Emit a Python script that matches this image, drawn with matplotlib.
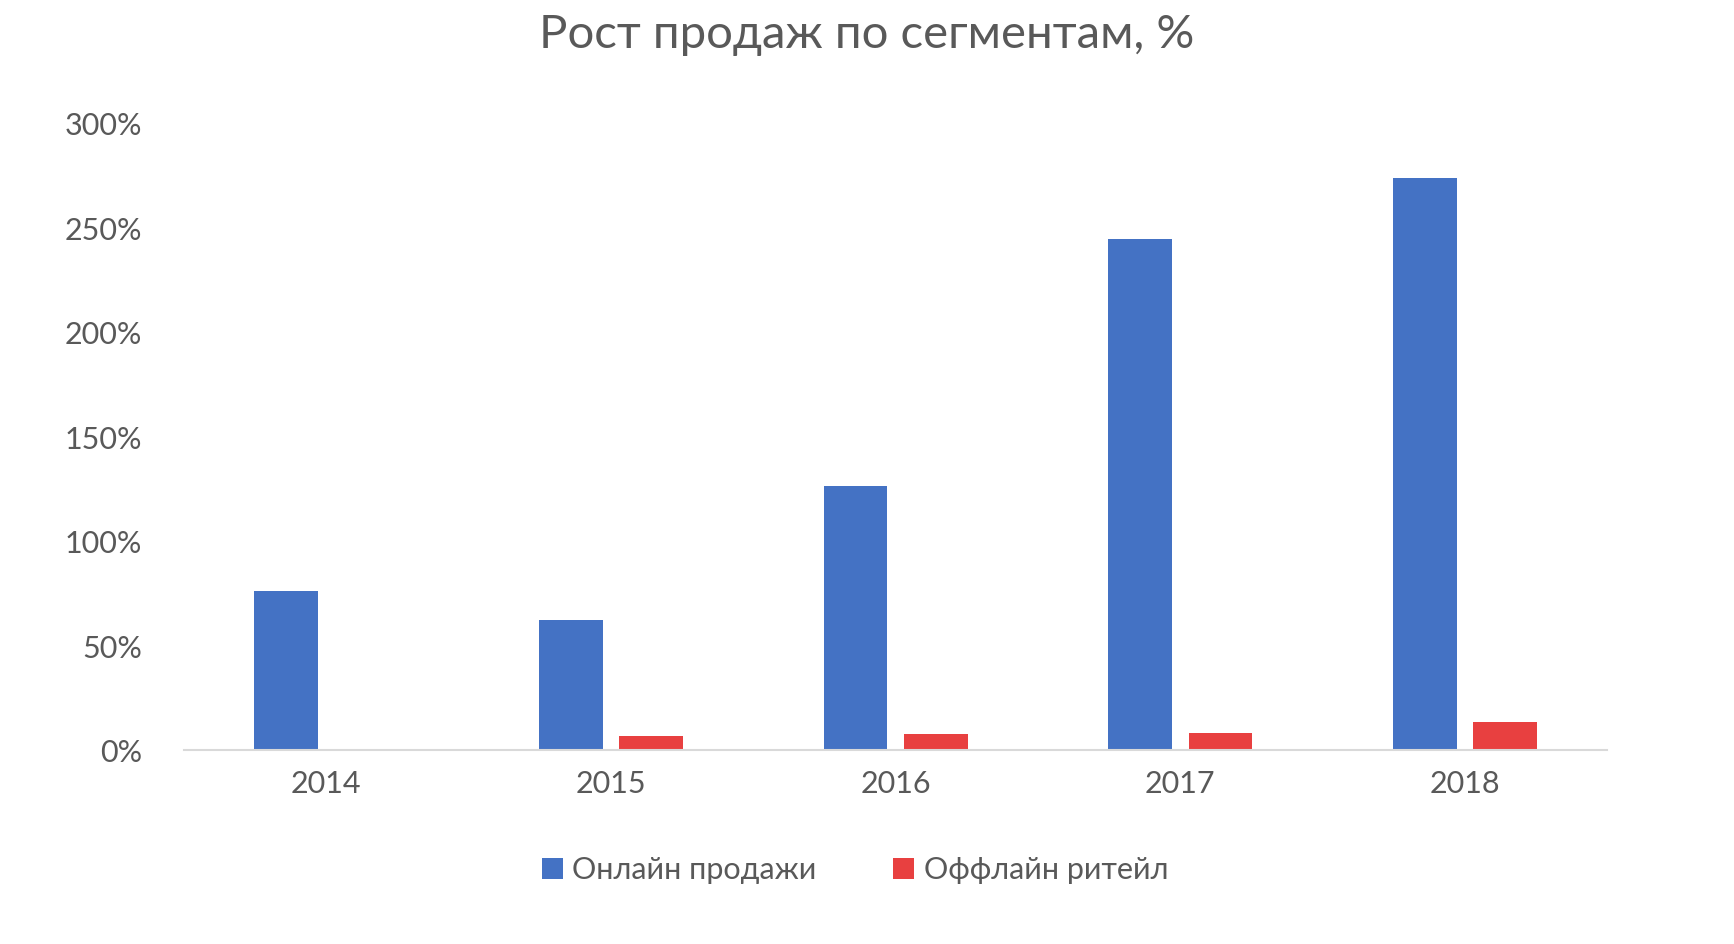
import numpy as np
import matplotlib.pyplot as plt
from matplotlib.ticker import FuncFormatter

years = ["2014", "2015", "2016", "2017", "2018"]
online = [76.5, 62.6, 126.7, 245, 274]
offline = [0.5, 7, 8, 8.6, 13.4]

plt.rcParams["font.family"] = "Lato"
gray = "#595959"

fig = plt.figure(figsize=(17.34, 9.44), dpi=100)
ax = fig.add_axes([0.106, 0.205, 0.821, 0.664])
x = np.arange(len(years))
w = 0.224
off = 0.141
ax.bar(x - off, online, w, color="#4472C4", label="Онлайн продажи")
ax.bar(x + off, offline, w, color="#E84040", label="Оффлайн ритейл")

ax.set_xlim(-0.5, len(years) - 0.5)
ax.set_ylim(0, 300)
ax.set_yticks(range(0, 301, 50))
ax.yaxis.set_major_formatter(FuncFormatter(lambda v, p: f"{v:.0f}%"))
ax.set_xticks(x)
ax.set_xticklabels(years)
for s in ["top", "right", "left"]:
    ax.spines[s].set_visible(False)
ax.spines["bottom"].set_color("#D9D9D9")
ax.spines["bottom"].set_linewidth(1.5)
ax.tick_params(axis="both", length=0, labelsize=22, colors=gray, pad=14)
ax.tick_params(axis="y", pad=30)

fig.suptitle("Рост продаж по сегментам, %", fontsize=34, color=gray, y=0.985)
fig.legend(loc="center", bbox_to_anchor=(0.493, 0.078), ncol=2, frameon=False,
           fontsize=22, labelcolor=gray, handlelength=0.7, handleheight=0.7,
           columnspacing=2.5, handletextpad=0.3)
fig.savefig("out.png")
